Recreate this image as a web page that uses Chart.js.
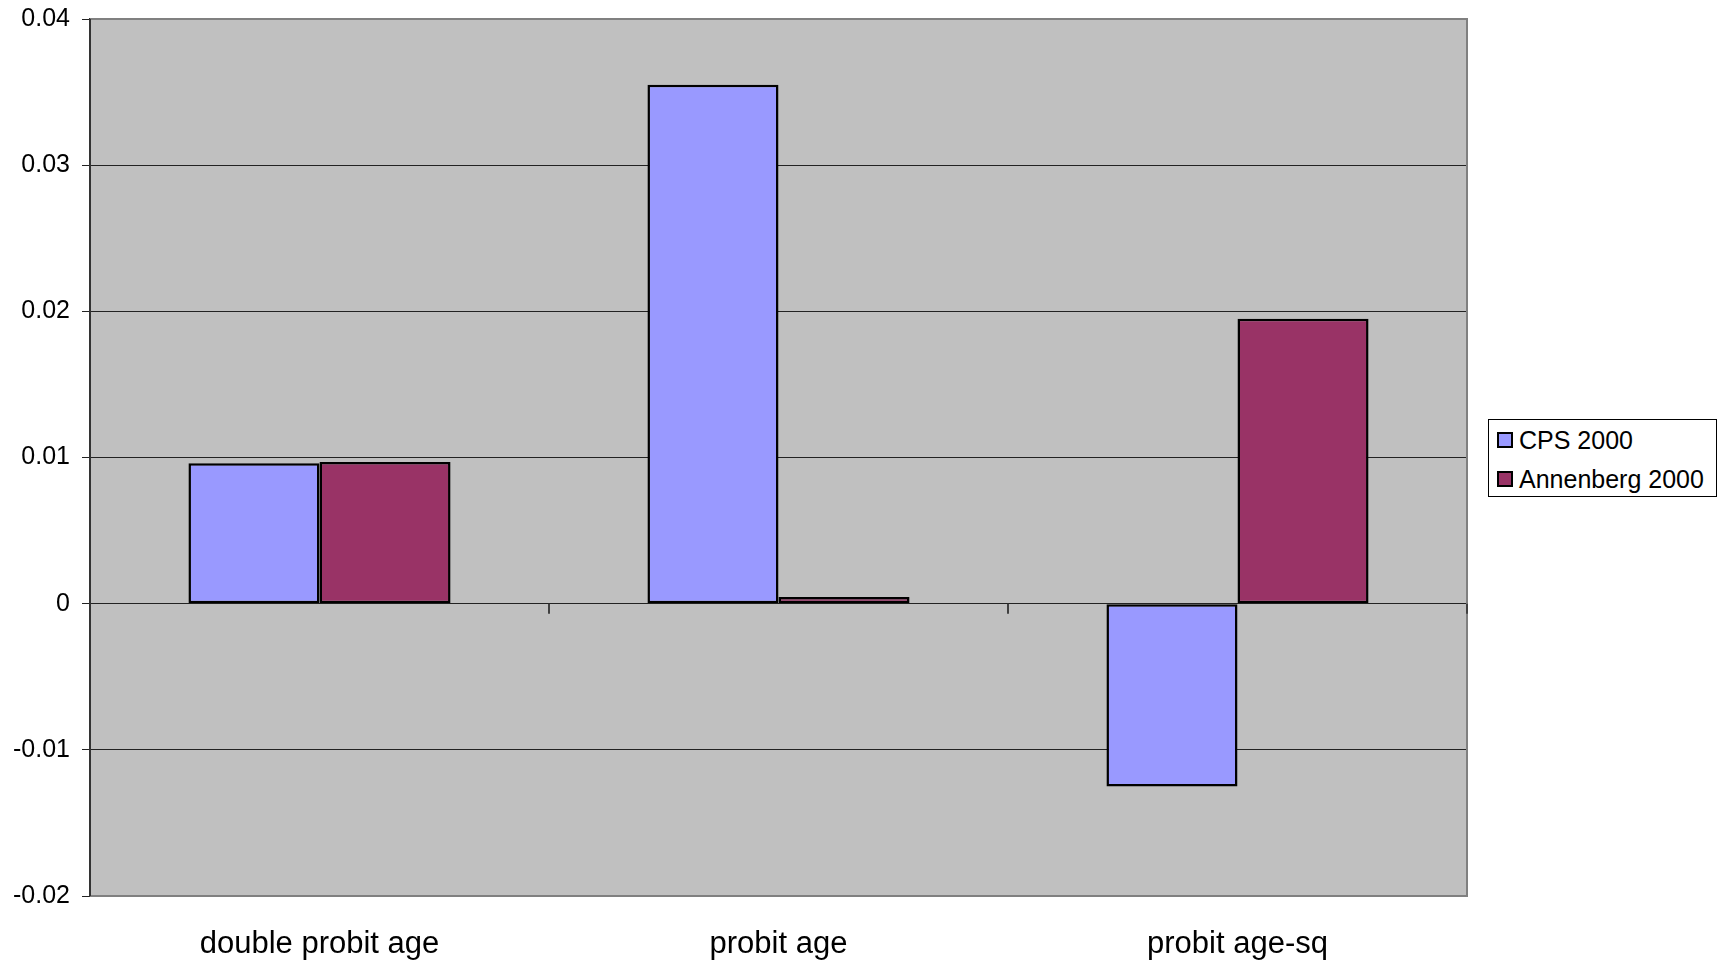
<!DOCTYPE html>
<html>
<head>
<meta charset="utf-8">
<script src="https://cdn.jsdelivr.net/npm/chart.js@4"></script>
<style>
  html, body { margin: 0; padding: 0; background: #fff; }
  #wrap { position: relative; width: 1717px; height: 963px; }
  #legend {
    position: absolute; left: 1488px; top: 419px; width: 227px; height: 76px;
    border: 1px solid #000; background: #fff;
    font-family: "Liberation Sans", Arial, sans-serif; font-size: 25px; color: #000;
  }
  .item { position: absolute; left: 8px; height: 30px; line-height: 30px; white-space: nowrap; }
  .sw { display: inline-block; width: 12px; height: 12px; border: 2px solid #000; vertical-align: middle; margin-right: 6px; position: relative; top: -2px; }
</style>
</head>
<body>
<div id="wrap">
  <canvas id="c" width="1717" height="963"></canvas>
  <div id="legend"></div>
</div>
<script>
const categories = ["double probit age", "probit age", "probit age-sq"];
const seriesNames = ["CPS 2000", "Annenberg 2000"];
const cpsValues = [0.0096, 0.0355, -0.0125];
const annenbergValues = [0.0097, 0.00045, 0.0195];
const seriesColors = ["#9999FF", "#993366"];
const yTicks = [-0.02, -0.01, 0, 0.01, 0.02, 0.03, 0.04];

// HTML legend
const legendEl = document.getElementById('legend');
seriesNames.forEach((name, i) => {
  const d = document.createElement('div');
  d.className = 'item';
  d.style.top = (5 + i * 39) + 'px';
  d.innerHTML = '<span class="sw" style="background:' + seriesColors[i] + '"></span>' + name;
  legendEl.appendChild(d);
});

const plotBg = {
  id: 'plotBg',
  beforeDraw(chart) {
    const a = chart.chartArea, ctx = chart.ctx;
    ctx.save();
    ctx.fillStyle = '#C0C0C0';
    ctx.fillRect(a.left, a.top, a.right - a.left, a.bottom - a.top);
    ctx.restore();
  },
  afterDraw(chart) {
    const a = chart.chartArea, ctx = chart.ctx;
    const x = chart.scales.x, y = chart.scales.y;
    ctx.save();
    ctx.strokeStyle = '#808080';
    ctx.lineWidth = 2;
    ctx.beginPath();
    ctx.moveTo(a.left, a.top); ctx.lineTo(a.right, a.top); ctx.lineTo(a.right, a.bottom); ctx.lineTo(a.left, a.bottom);
    ctx.stroke();
    ctx.strokeStyle = '#333';
    ctx.beginPath();
    ctx.moveTo(a.left, a.top); ctx.lineTo(a.left, a.bottom);
    ctx.stroke();
    const y0 = y.getPixelForValue(0);
    ctx.strokeStyle = '#404040';
    ctx.lineWidth = 2;
    for (let i = 1; i <= categories.length; i++) {
      const px = i < categories.length
        ? (x.getPixelForValue(i - 1) + x.getPixelForValue(i)) / 2
        : a.right;
      ctx.beginPath();
      ctx.moveTo(px, y0); ctx.lineTo(px, y0 + 10);
      ctx.stroke();
    }
    ctx.restore();
  }
};

new Chart(document.getElementById('c'), {
  type: 'bar',
  data: {
    labels: categories,
    datasets: [
      { label: seriesNames[0], data: cpsValues, backgroundColor: seriesColors[0], borderColor: '#000', borderWidth: 2.5, borderSkipped: false },
      { label: seriesNames[1], data: annenbergValues, backgroundColor: seriesColors[1], borderColor: '#000', borderWidth: 2.5, borderSkipped: false }
    ]
  },
  options: {
    responsive: false,
    animation: false,
    datasets: { bar: { categoryPercentage: 0.571, barPercentage: 1.0 } },
    layout: { padding: { top: 19, right: 250, left: 0, bottom: 0 } },
    plugins: { legend: { display: false }, tooltip: { enabled: false } },
    scales: {
      x: {
        grid: { display: false },
        border: { display: false },
        ticks: {
          color: '#000', padding: 22, maxRotation: 0,
          font: { family: '"Liberation Sans", Arial, sans-serif', size: 31 }
        },
        afterFit(s) { s.height = 67; s.paddingLeft = 0; s.paddingRight = 0; }
      },
      y: {
        min: yTicks[0],
        max: yTicks[yTicks.length - 1],
        afterBuildTicks(s) { s.ticks = yTicks.map(v => ({ value: v })); },
        grid: { color: '#222', lineWidth: 1, tickLength: 8, tickColor: '#222', tickWidth: 1 },
        border: { display: true, color: '#333', width: 2 },
        ticks: {
          color: '#000', padding: 12,
          font: { family: '"Liberation Sans", Arial, sans-serif', size: 25 },
          callback: v => String(+Number(v).toFixed(2))
        },
        afterFit(s) { s.width = 90; s.paddingTop = 0; s.paddingBottom = 0; }
      }
    }
  },
  plugins: [plotBg]
});
</script>
</body>
</html>
